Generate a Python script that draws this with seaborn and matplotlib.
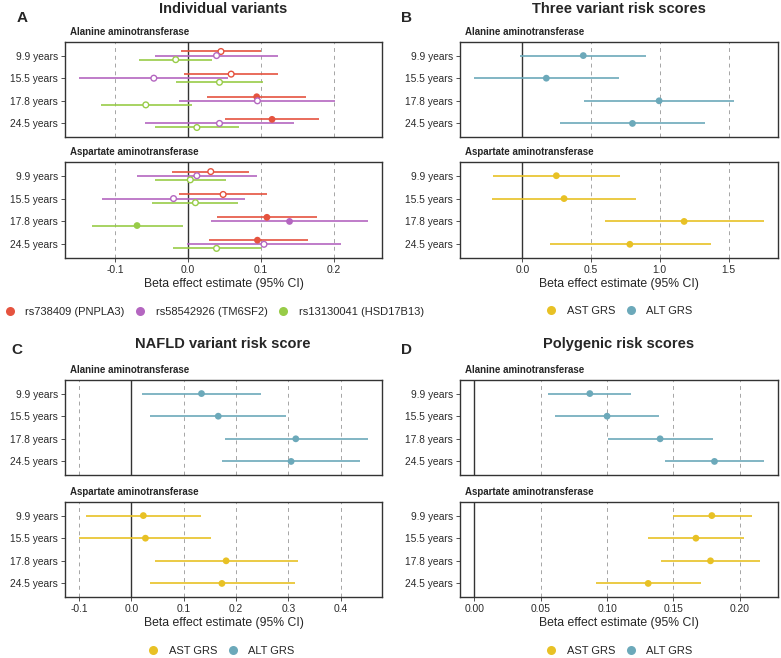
import numpy as np
import pandas as pd
import matplotlib
matplotlib.use('Agg')
import matplotlib.pyplot as plt
import seaborn as sns
from matplotlib.lines import Line2D

sns.set_style('white')
plt.rcParams['font.family'] = ['Liberation Sans', 'DejaVu Sans']

ages = ['9.9 years', '15.5 years', '17.8 years', '24.5 years']
variants = ['rs738409 (PNPLA3)', 'rs58542926 (TM6SF2)', 'rs13130041 (HSD17B13)']
variant_colors = ['#E5533F', '#B466C0', '#98CC48']
grs_labels = ['AST GRS', 'ALT GRS']
grs_colors = ['#E8C125', '#6CA9BA']

# A - individual variants (ALT)
a_alt_pnpla3 = [0.045, 0.059, 0.094, 0.115]
a_alt_pnpla3_lo = [-0.010, -0.005, 0.026, 0.051]
a_alt_pnpla3_hi = [0.100, 0.123, 0.162, 0.179]
a_alt_tm6sf2 = [0.039, -0.047, 0.095, 0.043]
a_alt_tm6sf2_lo = [-0.045, -0.149, -0.012, -0.059]
a_alt_tm6sf2_hi = [0.123, 0.055, 0.202, 0.145]
a_alt_hsd17b13 = [-0.017, 0.043, -0.058, 0.012]
a_alt_hsd17b13_lo = [-0.067, -0.017, -0.120, -0.046]
a_alt_hsd17b13_hi = [0.033, 0.103, 0.005, 0.070]
# A - individual variants (AST)
a_ast_pnpla3 = [0.031, 0.048, 0.108, 0.095]
a_ast_pnpla3_lo = [-0.022, -0.012, 0.040, 0.028]
a_ast_pnpla3_hi = [0.084, 0.108, 0.176, 0.164]
a_ast_tm6sf2 = [0.012, -0.020, 0.139, 0.104]
a_ast_tm6sf2_lo = [-0.070, -0.118, 0.031, -0.001]
a_ast_tm6sf2_hi = [0.094, 0.078, 0.246, 0.209]
a_ast_hsd17b13 = [0.003, 0.010, -0.070, 0.039]
a_ast_hsd17b13_lo = [-0.046, -0.049, -0.132, -0.021]
a_ast_hsd17b13_hi = [0.052, 0.069, -0.007, 0.100]

# B - three variant risk scores
b_alt = [0.443, 0.174, 0.995, 0.801]
b_alt_lo = [-0.017, -0.349, 0.448, 0.274]
b_alt_hi = [0.903, 0.700, 1.542, 1.329]
b_ast = [0.247, 0.303, 1.177, 0.782]
b_ast_lo = [-0.211, -0.223, 0.600, 0.199]
b_ast_hi = [0.707, 0.830, 1.755, 1.370]

# C - NAFLD variant risk score
c_alt = [0.134, 0.166, 0.314, 0.305]
c_alt_lo = [0.021, 0.036, 0.178, 0.174]
c_alt_hi = [0.248, 0.296, 0.451, 0.436]
c_ast = [0.023, 0.027, 0.181, 0.173]
c_ast_lo = [-0.086, -0.099, 0.045, 0.035]
c_ast_hi = [0.133, 0.152, 0.319, 0.312]

# D - polygenic risk scores
d_alt = [0.087, 0.100, 0.140, 0.181]
d_alt_lo = [0.0555, 0.061, 0.101, 0.144]
d_alt_hi = [0.118, 0.139, 0.180, 0.218]
d_ast = [0.179, 0.167, 0.178, 0.131]
d_ast_lo = [0.150, 0.131, 0.141, 0.092]
d_ast_hi = [0.209, 0.203, 0.215, 0.171]

W, H = 781, 658
fig = plt.figure(figsize=(W / 100, H / 100), dpi=100)


def rect(x0, y0, x1, y1):
    return [x0 / W, 1 - y1 / H, (x1 - x0) / W, (y1 - y0) / H]


def make_df(groups, betas, los, his, offsets, hollow_rule):
    rows = []
    for g, b, lo, hi, off in zip(groups, betas, los, his, offsets):
        for i in range(len(ages)):
            filled = True
            if hollow_rule:
                # non-significant estimates are drawn as open circles
                filled = lo[i] > 0 or hi[i] < 0
            rows.append(dict(group=g, age=ages[i], ypos=i + off,
                             beta=b[i], lo=lo[i], hi=hi[i], filled=filled))
    return pd.DataFrame(rows)


def draw_facet(ax, df, palette, xlim, ticks, ticklabels, bottom, strip):
    ax.set_facecolor('white')
    for t in ticks:
        if t != 0:
            ax.axvline(t, color='#A5A5A5', lw=0.7, ls=(0, (4, 4)), zorder=0)
    ax.axvline(0, color='#333333', lw=1.0, zorder=1)
    ax.hlines(df['ypos'], df['lo'], df['hi'],
              colors=[palette[g] for g in df['group']], lw=1.2, zorder=2)
    full = df[df['filled']]
    if len(full):
        sns.scatterplot(data=full, x='beta', y='ypos', hue='group', palette=palette,
                        s=24, linewidth=0, legend=False, ax=ax, zorder=3)
    hollow = df[~df['filled']]
    if len(hollow):
        sns.scatterplot(data=hollow, x='beta', y='ypos', hue='group', palette=palette,
                        s=17, linewidth=1.0, legend=False, ax=ax, zorder=3)
        coll = ax.collections[-1]
        fc = coll.get_facecolors()
        coll.set_edgecolors(fc)
        coll.set_facecolors('white')
    ax.set_xlim(xlim)
    ax.set_ylim(3.6, -0.6)
    ax.set_yticks(range(len(ages)))
    ax.set_yticklabels(ages)
    ax.set_xticks(ticks)
    ax.set_xticklabels(ticklabels)
    ax.set_xlabel('')
    ax.set_ylabel('')
    ax.tick_params(axis='y', left=True, length=3, width=0.6, color='#333333',
                   labelsize=7.4, labelcolor='#2B2B2B', pad=2)
    if bottom:
        ax.tick_params(axis='x', bottom=True, length=3, width=0.6, color='#333333',
                       labelsize=7.4, labelcolor='#2B2B2B', pad=2)
        ax.set_xlabel('Beta effect estimate (95% CI)', fontsize=8.8, labelpad=2)
    else:
        ax.tick_params(axis='x', bottom=False, labelbottom=False)
    for sp in ax.spines.values():
        sp.set_visible(True)
        sp.set_color('#333333')
        sp.set_linewidth(1.0)
    ax.annotate(strip, xy=(0, 1), xycoords='axes fraction', xytext=(3.6, 7.2),
                textcoords='offset points', fontsize=7, fontweight='bold',
                ha='left', va='center')


def limits(dfs):
    lo = min(0, min(d['lo'].min() for d in dfs))
    hi = max(0, max(d['hi'].max() for d in dfs))
    pad = (hi - lo) * 0.05
    return (lo - pad, hi + pad)


offsets3 = [-0.18, 0.0, 0.18]
pal_var = dict(zip(variants, variant_colors))
pal_grs = dict(zip(grs_labels, grs_colors))

# panel A
a_alt_df = make_df(variants, [a_alt_pnpla3, a_alt_tm6sf2, a_alt_hsd17b13],
                   [a_alt_pnpla3_lo, a_alt_tm6sf2_lo, a_alt_hsd17b13_lo],
                   [a_alt_pnpla3_hi, a_alt_tm6sf2_hi, a_alt_hsd17b13_hi], offsets3, True)
a_ast_df = make_df(variants, [a_ast_pnpla3, a_ast_tm6sf2, a_ast_hsd17b13],
                   [a_ast_pnpla3_lo, a_ast_tm6sf2_lo, a_ast_hsd17b13_lo],
                   [a_ast_pnpla3_hi, a_ast_tm6sf2_hi, a_ast_hsd17b13_hi], offsets3, True)

panels = [
    # (alt box, ast box, alt df, ast df, palette, ticks, ticklabels)
    ((65, 42, 382, 137), (65, 162, 382, 258), a_alt_df, a_ast_df, pal_var,
     [-0.1, 0.0, 0.1, 0.2], ['-0.1', '0.0', '0.1', '0.2']),
    ((460, 42, 778, 137), (460, 162, 778, 258),
     make_df(['ALT GRS'], [b_alt], [b_alt_lo], [b_alt_hi], [0], False),
     make_df(['AST GRS'], [b_ast], [b_ast_lo], [b_ast_hi], [0], False), pal_grs,
     [0.0, 0.5, 1.0, 1.5], ['0.0', '0.5', '1.0', '1.5']),
    ((65, 380, 382, 475), (65, 502, 382, 597),
     make_df(['ALT GRS'], [c_alt], [c_alt_lo], [c_alt_hi], [0], False),
     make_df(['AST GRS'], [c_ast], [c_ast_lo], [c_ast_hi], [0], False), pal_grs,
     [-0.1, 0.0, 0.1, 0.2, 0.3, 0.4], ['-0.1', '0.0', '0.1', '0.2', '0.3', '0.4']),
    ((460, 380, 778, 475), (460, 502, 778, 597),
     make_df(['ALT GRS'], [d_alt], [d_alt_lo], [d_alt_hi], [0], False),
     make_df(['AST GRS'], [d_ast], [d_ast_lo], [d_ast_hi], [0], False), pal_grs,
     [0.0, 0.05, 0.10, 0.15, 0.20], ['0.00', '0.05', '0.10', '0.15', '0.20']),
]

for alt_box, ast_box, alt_df, ast_df, pal, ticks, tlabels in panels:
    xl = limits([alt_df, ast_df])
    ax1 = fig.add_axes(rect(*alt_box))
    draw_facet(ax1, alt_df, pal, xl, ticks, tlabels, False, 'Alanine aminotransferase')
    ax2 = fig.add_axes(rect(*ast_box))
    draw_facet(ax2, ast_df, pal, xl, ticks, tlabels, True, 'Aspartate aminotransferase')

# titles and panel letters
titles = ['Individual variants', 'Three variant risk scores',
          'NAFLD variant risk score', 'Polygenic risk scores']
title_pos = [(223, 9), (619, 9), (223, 344), (619, 344)]
letters = ['A', 'B', 'C', 'D']
letter_pos = [(22, 18), (407, 18), (17, 350), (407, 350)]
for t, (x, y) in zip(titles, title_pos):
    fig.text(x / W, 1 - y / H, t, ha='center', va='center', fontsize=10.5, fontweight='bold')
for t, (x, y) in zip(letters, letter_pos):
    fig.text(x / W, 1 - y / H, t, ha='center', va='center', fontsize=11, fontweight='bold')


def add_legend(labels, colors, cx, cy):
    handles = [Line2D([], [], marker='o', ls='', color=c, markersize=6.5,
                      markeredgewidth=0) for c in colors]
    fig.legend(handles, labels, loc='center', bbox_to_anchor=(cx / W, 1 - cy / H),
               ncol=len(labels), frameon=False, fontsize=8, handlelength=1.0,
               handletextpad=0.9, columnspacing=0.9, borderpad=0, borderaxespad=0)


add_legend(variants, variant_colors, 214, 312)
add_legend(grs_labels, grs_colors, 619, 311)
add_legend(grs_labels, grs_colors, 221, 651)
add_legend(grs_labels, grs_colors, 619, 651)

fig.savefig('out.png', dpi=100)
